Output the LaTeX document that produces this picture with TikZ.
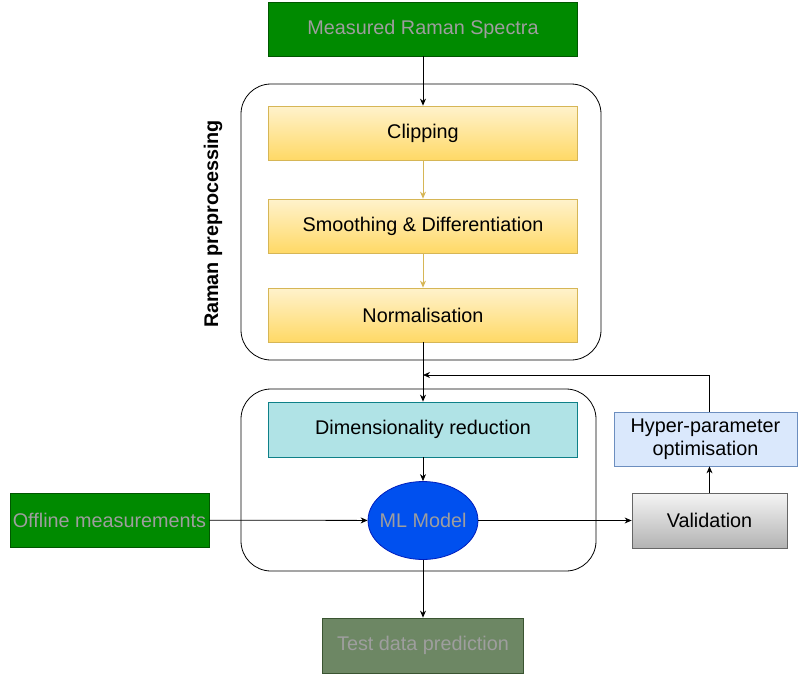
\documentclass[tikz,border=0pt]{standalone}
\usepackage{fontspec}
\setmainfont{Liberation Sans}
\usetikzlibrary{arrows.meta,shapes.geometric}

\definecolor{boxgreen}{HTML}{008A00}
\definecolor{boxgreenline}{HTML}{005700}
\definecolor{lighttext}{HTML}{9E9E9E}
\definecolor{yellowtop}{HTML}{FFF2CC}
\definecolor{yellowbot}{HTML}{FFD966}
\definecolor{yellowline}{HTML}{D6B656}
\definecolor{tealfill}{HTML}{B0E3E6}
\definecolor{tealline}{HTML}{0E8088}
\definecolor{mlblue}{HTML}{0050EF}
\definecolor{mlblueline}{HTML}{001DBC}
\definecolor{testgreen}{HTML}{6D8764}
\definecolor{testgreenline}{HTML}{3A5431}
\definecolor{hyperfill}{HTML}{DAE8FC}
\definecolor{hyperline}{HTML}{6C8EBF}

\begin{document}
\begin{tikzpicture}[x=1pt,y=-1pt,line width=0.8pt,
  >={Stealth[length=7pt,width=6pt]},
  font=\fontsize{19.8}{23}\selectfont,
  greenbox/.style={draw=boxgreenline,fill=boxgreen,text=lighttext,minimum height=54pt,inner sep=0pt},
  yellowbox/.style={draw=yellowline,top color=yellowtop,bottom color=yellowbot,minimum width=309pt,minimum height=54pt},
  frame/.style={draw,rounded corners=30pt}]
\useasboundingbox (0,0) rectangle (798,677);

\node[greenbox,minimum width=309pt] (spectra) at (423,29) {Measured Raman Spectra};

% preprocessing block
\draw[frame] (241,84) rectangle (601,360);
\node[yellowbox] (clip) at (423,133) {Clipping};
\node[yellowbox] (smooth) at (423,226) {Smoothing \& Differentiation};
\node[yellowbox] (norm) at (423,315) {Normalisation};
\node[rotate=90,font=\fontsize{19.8}{23}\selectfont\bfseries] (prelabel) at (213,224) {Raman preprocessing};

% model block
\draw[frame] (241,389) rectangle (596,571);
\node[draw=tealline,fill=tealfill,minimum width=309pt,minimum height=55pt] (dimred) at (423,429.5) {Dimensionality reduction};
\node[ellipse,draw=mlblueline,fill=mlblue,text=lighttext,minimum width=110pt,minimum height=78pt,inner xsep=-15pt,inner ysep=0pt] (ml) at (423,520.5) {ML Model};

\node[greenbox,minimum width=199pt] (offline) at (109.5,520) {Offline measurements};
\node[draw=black!60,top color=black!4,bottom color=black!30,minimum width=155pt,minimum height=55pt] (valid) at (709.5,520.5) {Validation};
\node[draw=hyperline,fill=hyperfill,align=center,minimum width=183pt,minimum height=54pt,inner sep=0pt] (hyper) at (705.5,439) {Hyper-parameter\\optimisation};
\node[draw=testgreenline,fill=testgreen,text=lighttext,minimum width=201pt,minimum height=55pt] (test) at (423,645.5) {Test data prediction};

\coordinate (join) at (423,375);

\draw[->] (spectra) -- (clip);
\draw[->,yellowline] (clip) -- (smooth);
\draw[->,yellowline] (smooth) -- (norm);
\draw[->] (norm) -- (dimred);
\draw[->] (dimred) -- (ml);
\draw[->] (offline) -- (ml);
\draw[->] (ml) -- (valid);
\draw[->] (ml) -- (test);
\draw[->] (valid) -- (valid |- hyper.south);
\draw[->] (valid |- hyper.north) |- (join);
\end{tikzpicture}
\end{document}
